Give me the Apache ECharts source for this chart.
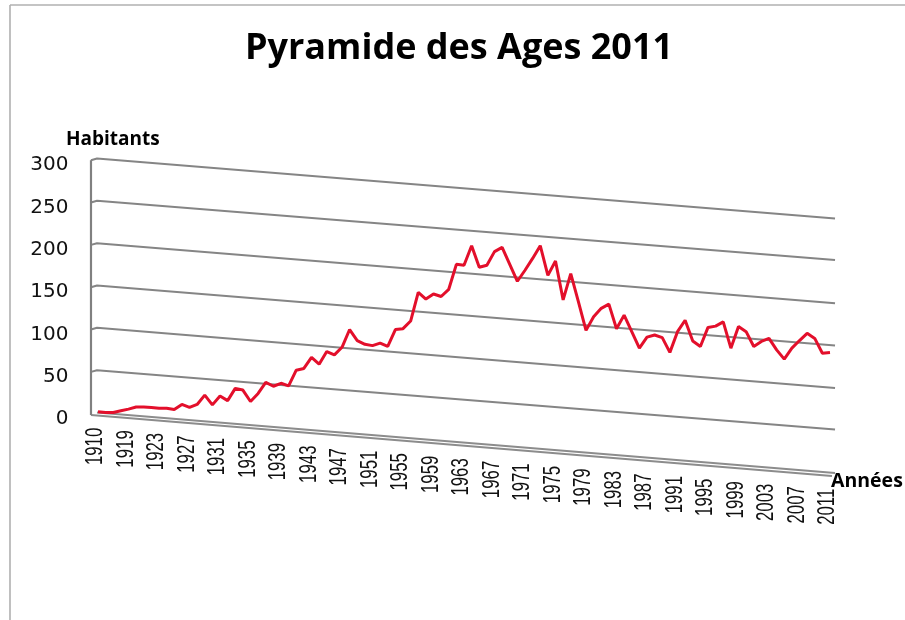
<!DOCTYPE html>
<html>
<head>
<meta charset="utf-8">
<style>html,body{margin:0;padding:0;background:#fff}#c{width:905px;height:620px}</style>
<script src="https://cdn.jsdelivr.net/npm/echarts@6/dist/echarts.min.js"></script>
</head>
<body>
<div id="c"></div>
<script>
// Years on the axis: five early steps, then yearly
var earlyYears = [1910, 1913, 1915, 1917, 1919, 1920, 1921, 1922];
var categories = earlyYears.slice();
for (var yr = 1923; yr <= 2011; yr++) categories.push(yr);
// Every fourth category carries a printed label
var tickStep = 4;
// Inhabitants as read against the left-hand scale
var habitants = [
  1, 0, 0, 2, 4, 6.5, 6.5, 6, 5, 5, 3.5, 9.5, 6, 9.5, 20.5, 9, 19.5, 14, 28.5, 26.5,
  13, 22.5, 35.5, 31, 34.5, 31.5, 50, 52, 65, 57, 72, 68, 77, 98, 85, 80.5, 79, 82, 78, 98,
  99, 108, 142, 134, 140, 137, 145.5, 175, 174, 197, 171.5, 174, 190, 195, 175, 155, 168, 182, 197, 162,
  179, 133, 164, 131, 97, 113, 123, 128, 99, 115, 95.5, 76, 89, 91.5, 88.5, 71, 95.5, 109, 84.5, 78,
  100.5, 102, 107, 76, 101.5, 95.5, 78, 84, 87.5, 74, 63, 76, 85, 93.5, 87.5, 70, 71
];
// Receding gridlines: value at the left wall and where each one lands at the right edge
var gridLeft  = [300, 250, 200, 150, 100, 50];
var gridRight = [229, 180, 129, 79, 29, -20];
var floorLeft  = [0, -3];
var floorRight = [-71.5, -75];
var yTicks = [0, 50, 100, 150, 200, 250, 300];

var wallX = -0.92, cornerX = -0.13, edgeX = 96.66;
var series = [];
gridLeft.forEach(function (v, k) {
  series.push({type: 'line', silent: true, symbol: 'none', clip: false, z: 1,
    lineStyle: {color: '#858585', width: 2},
    data: [[wallX, v - 2], [cornerX, v], [edgeX, gridRight[k]]]});
});
floorLeft.forEach(function (v, k) {
  series.push({type: 'line', silent: true, symbol: 'none', clip: false, z: 1,
    lineStyle: {color: '#8c8c8c', width: 2},
    data: k === 0 ? [[cornerX, v], [edgeX, floorRight[k]]] : [[wallX, v], [edgeX - 0.4, floorRight[k]]]});
});
series.push({type: 'line', silent: true, symbol: 'none', clip: false, z: 2,
  lineStyle: {color: '#808080', width: 2.2},
  data: [[wallX, -3], [wallX, 298]]});
series.push({type: 'line', name: 'Habitants', symbol: 'none', clip: false, z: 5,
  lineStyle: {color: '#e30f2b', width: 3},
  data: habitants.map(function (v, i) { return [i, v]; })});

var tickData = [];
for (var i = 0; i < categories.length; i += tickStep) tickData.push([i, -18 - i * 0.75]);
series.push({type: 'custom', silent: true, clip: false, z: 4, data: tickData,
  renderItem: function (p, api) {
    var c = api.coord([api.value(0) - 0.3, api.value(1)]);
    return {type: 'text', x: c[0], y: c[1], rotation: Math.PI / 2, scaleX: 0.7,
      style: {text: String(categories[api.value(0)]), fontFamily: 'Liberation Sans', fontSize: 24,
        fill: '#111', align: 'right', verticalAlign: 'middle'}};
  }});

var chart = echarts.init(document.getElementById('c'), null, {renderer: 'canvas'});
chart.setOption({
  animation: false,
  backgroundColor: '#fff',
  title: [
    {text: 'Pyramide des Ages 2011', left: 454, top: 26, textAlign: 'center',
      textStyle: {fontFamily: 'Open Sans', fontWeight: 'bold', fontSize: 36, color: '#000'}},
    {text: 'Habitants', left: 61, top: 125, textStyle: {fontFamily: 'Open Sans', fontWeight: 'bold', fontSize: 19, color: '#000'}},
    {text: 'Années', left: 826, top: 466, textStyle: {fontFamily: 'Open Sans', fontWeight: 'bold', fontSize: 19.5, color: '#000'}}
  ],
  grid: {left: 90.375, width: 747.25, top: 116.17, height: 423.33},
  xAxis: {type: 'value', min: -1, max: 97, show: false},
  yAxis: {type: 'value', min: -150, max: 350, interval: 50,
    axisLine: {show: false}, axisTick: {show: false}, splitLine: {show: false},
    axisLabel: {margin: 22, color: '#111', fontFamily: 'DejaVu Sans', fontSize: 20, verticalAlign: 'top', lineHeight: 13,
      formatter: function (v) { return yTicks.indexOf(v) >= 0 ? String(v) : ''; }}},
  series: series,
  graphic: [
    {type: 'line', shape: {x1: 10, y1: 5, x2: 905, y2: 5}, style: {stroke: '#8a8a8a', lineWidth: 1.2}},
    {type: 'line', shape: {x1: 10, y1: 5, x2: 10, y2: 620}, style: {stroke: '#b0b0b0', lineWidth: 1.6}}
  ]
});
</script>
</body>
</html>
